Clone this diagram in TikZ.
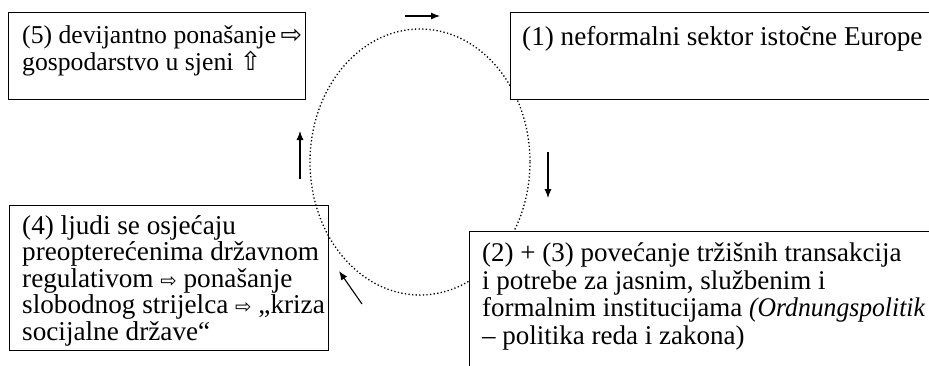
\documentclass[tikz,border=0pt]{standalone}
\usepackage{graphicx}
\usepackage{fontspec}
\setmainfont{Liberation Serif}
\newfontfamily\arrowfont{DejaVu Sans}[Scale=0.72]
\newfontfamily\bigarrowfont{DejaVu Sans}[Scale=1.0]
\usetikzlibrary{positioning,arrows.meta}

\begin{document}
\begin{tikzpicture}[
  x=1pt, y=-1pt,
  box/.style={draw,line width=1.1pt,anchor=north west,inner sep=0pt},
  label/.style={inner sep=0pt,align=left},
  cycle/.style={line width=1.3pt,dash pattern=on 1.3pt off 2.3pt},
  flow/.style={-{Latex[length=9pt,width=7pt]},line width=1.1pt},
  ]
  \useasboundingbox (0,0) rectangle (929,365);
  \clip (0,0) rectangle (929,365);
  % the cycle
  \draw[cycle] (420,162) ellipse [x radius=110,y radius=133];
  % boxes
  \node[box,minimum width=297,minimum height=87] (box5) at (8,12) {};
  \node[box,fill=white,minimum width=440,minimum height=87] (box1) at (510,12) {};
  \node[box,minimum width=319,minimum height=145] (box4) at (9,205) {};
  \node[box,fill=white,minimum width=470,minimum height=150] (box2) at (469,231) {};
  % texts
  \node[label,font=\fontsize{25.7}{27}\selectfont,
    below right=13pt and 14pt of box5.north west] (text5)
    {(5) devijantno ponašanje{\bigarrowfont\,⇨}\\gospodarstvo u sjeni {\bigarrowfont ⇧}};
  \node[label,font=\fontsize{27.2}{27}\selectfont,
    below right=14pt and 12pt of box1.north west] (text1)
    {(1) neformalni sektor istočne Europe};
  \node[label,font=\fontsize{27.2}{26.5}\selectfont,
    below right=10pt and 13pt of box4.north west] (text4)
    {(4) ljudi se osjećaju\\preopterećenima državnom\\regulativom {\arrowfont ⇨} ponašanje\\
     slobodnog strijelca {\arrowfont ⇨} „kriza\\socijalne države“};
  \node[label,font=\fontsize{27}{27.5}\selectfont,
    below right=12pt and 13pt of box2.north west] (text2)
    {(2) + (3) povećanje tržišnih transakcija\\i potrebe za jasnim, službenim i\\
     formalnim institucijama \scalebox{0.95}[1]{\itshape(Ordnungspolitik}\\– politika reda i zakona)};
  % arrows round the cycle
  \coordinate (topA) at (405,16);
  \coordinate (topB) at (440,16);
  \coordinate (rightA) at (548,152);
  \coordinate (rightB) at (548,198);
  \coordinate (lowA) at (362,304);
  \coordinate (lowB) at (339,271);
  \coordinate (leftA) at (300,179);
  \coordinate (leftB) at (300,131);
  \draw[flow] (topA) -- (topB);
  \draw[flow] (rightA) -- (rightB);
  \draw[flow] (lowA) -- (lowB);
  \draw[flow] (leftA) -- (leftB);
\end{tikzpicture}
\end{document}
